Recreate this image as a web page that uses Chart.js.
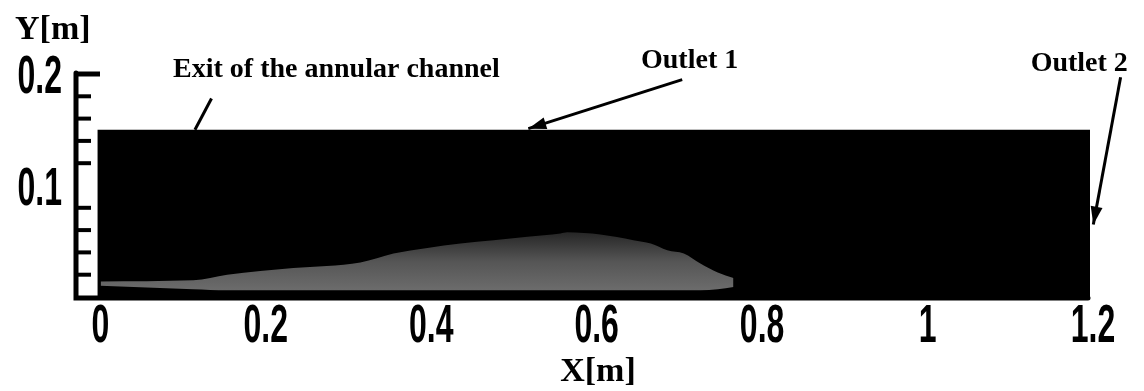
<!DOCTYPE html>
<html>
<head>
<meta charset="utf-8">
<script src="https://cdn.jsdelivr.net/npm/chart.js@4.4.1/dist/chart.umd.min.js"></script>
<style>
    html, body { margin: 0; padding: 0; background: #fff; }
</style>
</head>
<body>
<canvas id="chart" width="1144" height="391"></canvas>
<script>
// Domaine de calcul (rectangle noir) et zone grise au fond
const domainX = [0, 1.2];
const domainY = [0.15, 0.15];

const bumpX      = [0.004, 0.116, 0.157, 0.237, 0.318, 0.358, 0.399, 0.439, 0.479, 0.52, 0.56, 0.568, 0.608, 0.648, 0.669, 0.689, 0.709, 0.729, 0.75, 0.769];
const bumpTop    = [0.014, 0.015, 0.020, 0.026, 0.031, 0.039, 0.044, 0.048, 0.051, 0.054, 0.057, 0.058, 0.056, 0.051, 0.048, 0.042, 0.039, 0.030, 0.022, 0.017];
const bumpBottom = [0.010, 0.007, 0.006, 0.006, 0.006, 0.006, 0.006, 0.006, 0.006, 0.006, 0.006, 0.006, 0.006, 0.006, 0.006, 0.006, 0.006, 0.006, 0.007, 0.009];

// Axes
const xTicks = [0, 0.2, 0.4, 0.6, 0.8, 1, 1.2];
const xTickLabels = ['0', '0.2', '0.4', '0.6', '0.8', '1', '1.2'];
const yTicks = [0.1, 0.2];
const yTickLabels = ['0.1', '0.2'];
const yMinorTicks = [0.02, 0.04, 0.06, 0.08, 0.12, 0.14, 0.16, 0.18];

// Annotations : texte + fleche (coordonnees en metres)
const notes = [
    { text: 'Exit of the annular channel', tx: 0.289, ty: 0.197, from: [0.138, 0.178], to: [0.118, 0.150], head: false },
    { text: 'Outlet 1', tx: 0.716, ty: 0.205, from: [0.707, 0.195], to: [0.521, 0.151], head: true },
    { text: 'Outlet 2', tx: 1.187, ty: 0.203, from: [1.237, 0.197], to: [1.204, 0.065], head: true }
];

const SERIF = '"Liberation Serif", "Times New Roman", serif';
const SANS = '"Liberation Sans", Arial, sans-serif';

function pts(xs, ys) {
    return xs.map((x, i) => ({ x: x, y: ys[i] }));
}

function stretchText(ctx, text, x, y, align) {
    ctx.save();
    ctx.translate(x, y);
    ctx.scale(0.8, 1.36);
    ctx.textAlign = align;
    ctx.textBaseline = 'middle';
    ctx.fillText(text, 0, 0);
    ctx.restore();
}

const decorPlugin = {
    id: 'decor',
    afterDraw(chart) {
        const ctx = chart.ctx;
        const xs = chart.scales.x;
        const ys = chart.scales.y;
        const area = chart.chartArea;
        ctx.save();
        ctx.fillStyle = '#000';
        ctx.strokeStyle = '#000';

        // axe vertical + axe horizontal
        ctx.lineCap = 'round';
        ctx.lineWidth = 5;
        ctx.beginPath();
        ctx.moveTo(area.left + 1, ys.getPixelForValue(0.2) - 1);
        ctx.lineTo(area.left + 1, area.bottom + 1);
        ctx.lineTo(area.right - 2, area.bottom + 1);
        ctx.stroke();

        // graduations (vers l'interieur)
        ctx.lineCap = 'butt';
        ctx.lineWidth = 4;
        yMinorTicks.forEach(v => {
            const py = ys.getPixelForValue(v);
            ctx.beginPath();
            ctx.moveTo(area.left + 2, py);
            ctx.lineTo(area.left + 16, py);
            ctx.stroke();
        });
        ctx.lineWidth = 5;
        ctx.beginPath();
        ctx.moveTo(area.left, ys.getPixelForValue(0.2));
        ctx.lineTo(area.left + 25, ys.getPixelForValue(0.2));
        ctx.stroke();

        // libelles des graduations
        ctx.font = 'bold 40px ' + SANS;
        yTicks.forEach((v, i) => {
            stretchText(ctx, yTickLabels[i], 62, ys.getPixelForValue(v) + 4, 'right');
        });
        xTicks.forEach((v, i) => {
            stretchText(ctx, xTickLabels[i], xs.getPixelForValue(v) + 3, 327, 'center');
        });

        // titres des axes
        ctx.font = 'bold 34px ' + SERIF;
        ctx.textBaseline = 'alphabetic';
        ctx.textAlign = 'left';
        ctx.fillText('Y[m]', 15, 39);
        ctx.textAlign = 'center';
        ctx.fillText('X[m]', 598, 381);

        // annotations
        ctx.font = 'bold 28px ' + SERIF;
        notes.forEach(n => {
            ctx.fillText(n.text, xs.getPixelForValue(n.tx), ys.getPixelForValue(n.ty));
            const x1 = xs.getPixelForValue(n.from[0]), y1 = ys.getPixelForValue(n.from[1]);
            const x2 = xs.getPixelForValue(n.to[0]), y2 = ys.getPixelForValue(n.to[1]);
            ctx.lineWidth = 3;
            ctx.beginPath();
            ctx.moveTo(x1, y1);
            ctx.lineTo(x2, y2);
            ctx.stroke();
            if (n.head) {
                const a = Math.atan2(y2 - y1, x2 - x1);
                const len = 18, w = 6;
                ctx.beginPath();
                ctx.moveTo(x2, y2);
                ctx.lineTo(x2 - len * Math.cos(a) + w * Math.sin(a), y2 - len * Math.sin(a) - w * Math.cos(a));
                ctx.lineTo(x2 - len * Math.cos(a) - w * Math.sin(a), y2 - len * Math.sin(a) + w * Math.cos(a));
                ctx.closePath();
                ctx.fill();
            }
        });
        ctx.restore();
    }
};

const ctx = document.getElementById('chart').getContext('2d');
const chart = new Chart(ctx, {
    type: 'line',
    data: {
        datasets: [
            {
                label: 'bump',
                data: pts(bumpX, bumpTop),
                borderWidth: 0,
                pointRadius: 0,
                cubicInterpolationMode: 'monotone',
                fill: 1,
                backgroundColor: function(c) {
                    const ch = c.chart;
                    if (!ch.chartArea) return '#555';
                    const y = ch.scales.y;
                    const g = ch.ctx.createLinearGradient(0, y.getPixelForValue(0.006), 0, y.getPixelForValue(0.058));
                    g.addColorStop(0, '#6c6c6c');
                    g.addColorStop(0.5, '#555555');
                    g.addColorStop(1, '#262626');
                    return g;
                }
            },
            {
                label: 'bottom',
                data: pts(bumpX, bumpBottom),
                borderWidth: 0,
                pointRadius: 0,
                cubicInterpolationMode: 'monotone',
                fill: false
            },
            {
                label: 'domain',
                data: pts(domainX, domainY),
                borderWidth: 0,
                pointRadius: 0,
                fill: 'origin',
                backgroundColor: '#000'
            }
        ]
    },
    options: {
        responsive: false,
        animation: false,
        events: [],
        layout: { padding: { left: 75, right: 54, top: 74, bottom: 94 } },
        plugins: {
            legend: { display: false },
            tooltip: { enabled: false }
        },
        scales: {
            x: { type: 'linear', min: -0.027, max: 1.2, display: false },
            y: { type: 'linear', min: 0, max: 0.2, display: false }
        }
    },
    plugins: [decorPlugin]
});
</script>
</body>
</html>
